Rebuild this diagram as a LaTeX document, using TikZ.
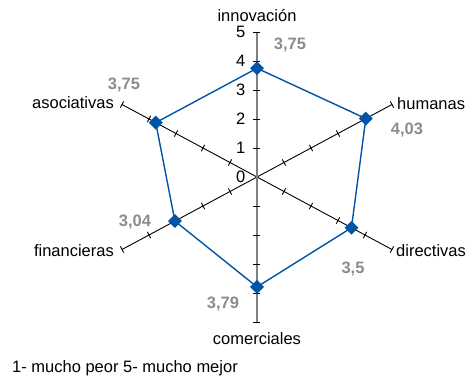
\documentclass[tikz,border=0pt]{standalone}
\usepackage{fontspec}
\setmainfont{Liberation Sans}
\usetikzlibrary{calc,shapes.geometric}

\definecolor{azulserie}{RGB}{0,84,166}
\definecolor{grisvalor}{RGB}{140,140,140}
\definecolor{grisej}{RGB}{128,128,128}

\tikzset{
  eje/.style={black, line width=0.9pt},
  ejev/.style={grisej, line width=1.6pt},
  marca/.style={diamond, fill=azulserie, inner sep=0pt, minimum size=14pt},
  serie/.style={azulserie, line width=1.4pt, line join=round},
  valor/.style={text=grisvalor, font=\fontsize{16.5}{19}\selectfont\bfseries, inner sep=0pt},
  etiq/.style={font=\fontsize{16.5}{19}\selectfont, inner sep=0pt},
}

\begin{document}
\begin{tikzpicture}[x=1pt,y=1pt]
\useasboundingbox (-257,-208) rectangle (217,177);

% Centro y extremos de los ejes (valor 5)
\coordinate (O) at (0,0);
\coordinate (eI) at (0,145);
\coordinate (eH) at (135,72.5);
\coordinate (eD) at (135,-72.5);
\coordinate (eC) at (0,-145);
\coordinate (eF) at (-135,-72.5);
\coordinate (eA) at (-135,72.5);

% Ejes diagonales
\draw[eje] (eA) -- (eD);
\draw[eje] (eF) -- (eH);
\draw[ejev] (eI) -- (eC); % Eje vertical

% Marcas de escala
\foreach \e in {eI,eC}
  \foreach \k in {1,...,5}
    \draw[eje] ($(O)!\k/5!(\e)$) +(-3.5,0) -- +(3.5,0);
\foreach \e in {eH,eD,eF,eA}
  \foreach \k in {1,...,5} {
    \coordinate (t) at ($(O)!\k/5!(\e)$);
    \draw[eje] ($(t)!3.5pt!90:(O)$) -- ($(t)!3.5pt!-90:(O)$);
  }

% Numeros del eje vertical
\foreach \k in {0,...,5}
  \node[etiq, anchor=east] (n\k) at (-11.5,\k*29) {\k};

% Puntos de la serie
\coordinate (pI) at ($(O)!3.75/5!(eI)$);
\coordinate (pH) at ($(O)!4.03/5!(eH)$);
\coordinate (pD) at ($(O)!3.5/5!(eD)$);
\coordinate (pC) at ($(O)!3.79/5!(eC)$);
\coordinate (pF) at ($(O)!3.04/5!(eF)$);
\coordinate (pA) at ($(O)!3.75/5!(eA)$);
\draw[serie] (pI) -- (pH) -- (pD) -- (pC) -- (pF) -- (pA) -- cycle;
\foreach \p in {pI,pH,pD,pC,pF,pA}
  \node[marca] (m\p) at (\p) {};

% Valores
\node[valor] (vI) at (33,132) {3,75};
\node[valor] (vH) at (150,47) {4,03};
\node[valor] (vD) at (96,-92) {3,5};
\node[valor] (vC) at (-34,-127) {3,79};
\node[valor] (vF) at (-122,-45) {3,04};
\node[valor] (vA) at (-133,92) {3,75};

% Etiquetas de los ejes
\node[etiq] (lI) at (0,161) {innovación};
\node[etiq, anchor=west] (lH) at (140,73) {humanas};
\node[etiq, anchor=west] (lD) at (139,-74) {directivas};
\node[etiq] (lC) at (0,-162) {comerciales};
\node[etiq, anchor=east] (lF) at (-143,-74) {financieras};
\node[etiq, anchor=east] (lA) at (-143,74) {asociativas};

% Leyenda de escala
\node[etiq, anchor=west] (ley) at (-245,-191) {1- mucho peor 5- mucho mejor};

\end{tikzpicture}
\end{document}
